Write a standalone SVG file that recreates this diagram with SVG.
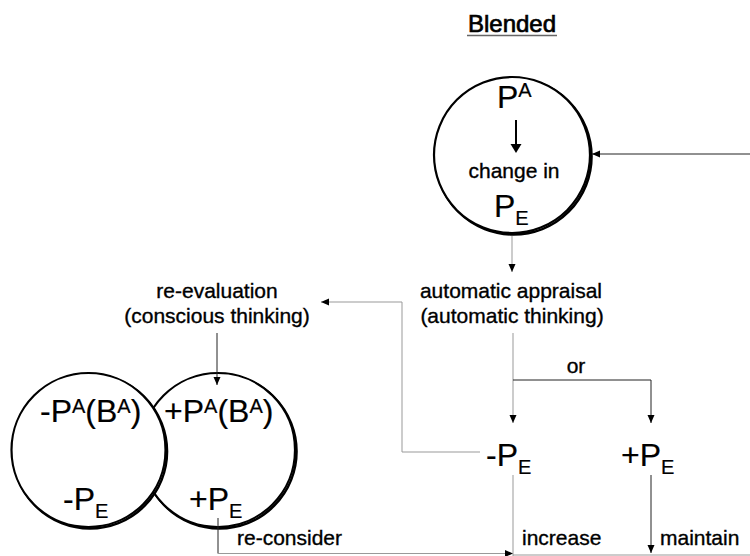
<svg xmlns="http://www.w3.org/2000/svg" width="750" height="556" viewBox="0 0 750 556">
<defs>
<marker id="ah" markerUnits="userSpaceOnUse" markerWidth="9" markerHeight="8" refX="8" refY="3.5" orient="auto">
<path d="M0,0 L8,3.5 L0,7 z" fill="#000"/>
</marker>
<style>
text{font-family:"Liberation Sans",Arial,sans-serif;fill:#000;stroke:#000;stroke-width:0.35}
.lbl{font-size:21px}
.big{font-size:32px;stroke-width:0.2}
.sm{font-size:20px}
.c{stroke:#000;stroke-width:2.2;fill:#fff}
.sh{stroke:#000;stroke-width:2.6;fill:none}
.k{stroke:#222;stroke-width:1;fill:none}
.g{stroke:#999;stroke-width:1;fill:none}
</style>
</defs>
<rect width="750" height="556" fill="#fff"/>

<g id="title">
<text x="512" y="32" font-size="24" text-anchor="middle" style="stroke-width:0.7">Blended</text>
<line x1="467" y1="35.5" x2="557" y2="35.5" stroke="#666" stroke-width="1.5"/>
</g>

<g id="top-circle">
<circle class="sh" cx="513.5" cy="156.5" r="78"/>
<circle class="c" cx="512" cy="155" r="78"/>
<text x="497" y="108" class="big">P<tspan class="sm" dy="-11">A</tspan></text>
<line x1="516" y1="120" x2="516" y2="146" stroke="#000" stroke-width="2"/>
<path d="M510.5,144 L516,153 L521.5,144 z" fill="#000"/>
<text x="514" y="178" class="lbl" text-anchor="middle">change in</text>
<text x="494" y="217" class="big">P<tspan class="sm" dy="8">E</tspan></text>
</g>

<g id="automatic">
<text x="511" y="298" class="lbl" text-anchor="middle">automatic appraisal</text>
<text x="512" y="323" class="lbl" text-anchor="middle">(automatic thinking)</text>
</g>

<g id="reevaluation">
<text x="217" y="298" class="lbl" text-anchor="middle">re-evaluation</text>
<text x="217" y="323" class="lbl" text-anchor="middle">(conscious thinking)</text>
</g>

<g id="or-label">
<text x="576" y="373" class="lbl" text-anchor="middle">or</text>
</g>

<g id="neg-pe">
<text x="486" y="466" class="big">-P<tspan class="sm" dy="8">E</tspan></text>
</g>

<g id="pos-pe">
<text x="621" y="466" class="big">+P<tspan class="sm" dy="8">E</tspan></text>
</g>

<g id="right-circle">
<circle class="sh" cx="219.5" cy="451.5" r="77"/>
<circle class="c" cx="218" cy="450" r="77"/>
<text x="164" y="422" class="big">+P<tspan class="sm" dy="-9">A</tspan><tspan dy="9">(B</tspan><tspan class="sm" dy="-9">A</tspan><tspan dy="9">)</tspan></text>
<text x="189" y="510" class="big">+P<tspan class="sm" dy="8">E</tspan></text>
</g>

<g id="left-circle">
<circle class="sh" cx="90" cy="451.5" r="77"/>
<circle class="c" cx="88.5" cy="450" r="77"/>
<text x="40" y="422" class="big">-P<tspan class="sm" dy="-9">A</tspan><tspan dy="9">(B</tspan><tspan class="sm" dy="-9">A</tspan><tspan dy="9">)</tspan></text>
<text x="63" y="510" class="big">-P<tspan class="sm" dy="8">E</tspan></text>
</g>

<g id="edge-labels">
<text x="237" y="545" class="lbl">re-consider</text>
<text x="522" y="545" class="lbl">increase</text>
<text x="660" y="545" class="lbl">maintain</text>
</g>

<g id="connectors">
<line class="k" x1="750" y1="154" x2="592" y2="154" marker-end="url(#ah)"/>
<line class="g" x1="512" y1="236" x2="512" y2="272" marker-end="url(#ah)"/>
<line class="g" x1="513" y1="333" x2="513" y2="423" marker-end="url(#ah)"/>
<polyline class="k" points="513,380 651,380 651,423" marker-end="url(#ah)"/>
<polyline class="g" points="480,452 402,452 402,302 321,302" marker-end="url(#ah)"/>
<line class="k" x1="217" y1="333" x2="217" y2="385" marker-end="url(#ah)"/>
<line class="k" x1="218" y1="518" x2="218" y2="553.5"/>
<line class="g" x1="218" y1="553.5" x2="513" y2="553.5" marker-end="url(#ah)"/>
<line class="g" x1="513" y1="475" x2="513" y2="556"/>
<line class="k" x1="651" y1="475" x2="651" y2="553" marker-end="url(#ah)"/>
<line class="g" x1="513" y1="555" x2="750" y2="555"/>
</g>
</svg>
